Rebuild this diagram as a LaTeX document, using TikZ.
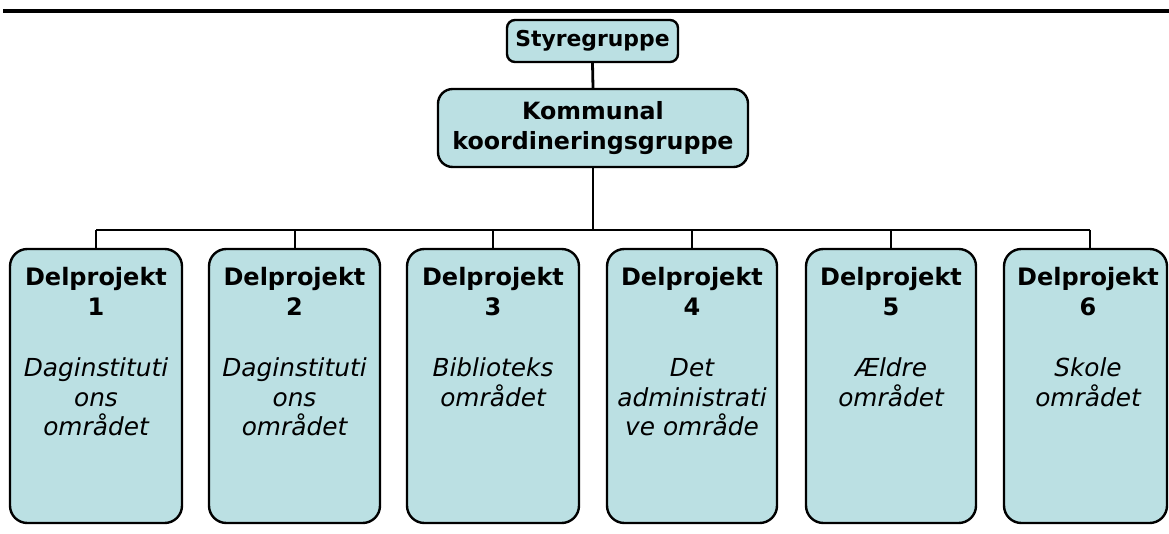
\documentclass[tikz,border=0pt]{standalone}
\usepackage{fontspec}
\setmainfont{DejaVu Sans}
\definecolor{boxfill}{RGB}{187,224,227}
\newcommand{\dpb}[1]{{\bfseries #1}}
\newcommand{\dpi}[1]{{\fontsize{18.6}{22}\selectfont\itshape #1}}
\begin{document}
\begin{tikzpicture}[x=0.75pt,y=-0.75pt,
  boxbase/.style={draw=black,line width=1.8pt,fill=boxfill,inner sep=0pt},
  stybox/.style={boxbase,rounded corners=6pt,minimum width=128.25pt,minimum height=31.5pt,
     font=\fontsize{16.4}{18}\selectfont\bfseries},
  kombox/.style={boxbase,rounded corners=11pt,minimum width=232.5pt,minimum height=58.5pt,
     align=center,font=\fontsize{17.8}{22}\selectfont\bfseries},
  delbox/.style={boxbase,rounded corners=13pt,minimum height=205.5pt},
  deltext/.style={anchor=north,inner sep=0pt,align=center,font=\fontsize{18}{22.2}\selectfont},
  conn/.style={line width=2.1pt}]
\useasboundingbox (0,0) rectangle (1169,534);
\draw[line width=2.6pt] (3,11) -- (1169,11);
\node[stybox] (sty) at (592.5,41) {Styregruppe};
\node[kombox] (kom) at (593,128) {Kommunal\\koordineringsgruppe};
\node[delbox,minimum width=129pt] (d1) at (96,386) {};
\node[delbox,minimum width=128.25pt] (d2) at (294.5,386) {};
\node[delbox,minimum width=129pt] (d3) at (493,386) {};
\node[delbox,minimum width=127.5pt] (d4) at (692,386) {};
\node[delbox,minimum width=127.5pt] (d5) at (891,386) {};
\node[delbox,minimum width=122.25pt] (d6) at (1085.5,386) {};
\coordinate (c1) at (96,249);
\coordinate (c2) at (295,249);
\coordinate (c3) at (493,249);
\coordinate (c4) at (692,249);
\coordinate (c5) at (891,249);
\coordinate (c6) at (1090,249);
\coordinate (bus) at (593,230);
\node[deltext] (t1) at (96,267) {\dpb{Delprojekt}\\\dpb{1}\\[24pt]\dpi{Daginstituti}\\\dpi{ons}\\\dpi{området}};
\node[deltext] (t2) at (294.5,267) {\dpb{Delprojekt}\\\dpb{2}\\[24pt]\dpi{Daginstituti}\\\dpi{ons}\\\dpi{området}};
\node[deltext] (t3) at (493,267) {\dpb{Delprojekt}\\\dpb{3}\\[24pt]\dpi{Biblioteks}\\\dpi{området}};
\node[deltext] (t4) at (692,267) {\dpb{Delprojekt}\\\dpb{4}\\[24pt]\dpi{Det}\\\dpi{administrati}\\\dpi{ve område}};
\node[deltext] (t5) at (891,267) {\dpb{Delprojekt}\\\dpb{5}\\[24pt]\dpi{Ældre}\\\dpi{området}};
\node[deltext] (t6) at (1088,267) {\dpb{Delprojekt}\\\dpb{6}\\[24pt]\dpi{Skole}\\\dpi{området}};
\draw[conn] (sty.south) -- (kom.north);
\draw[conn] (kom.south) -- (bus);
\draw[conn] (c1 |- bus) -- (c6 |- bus);
\foreach \i in {1,...,6} {\draw[conn] (c\i |- bus) -- (c\i);}
\end{tikzpicture}
\end{document}
